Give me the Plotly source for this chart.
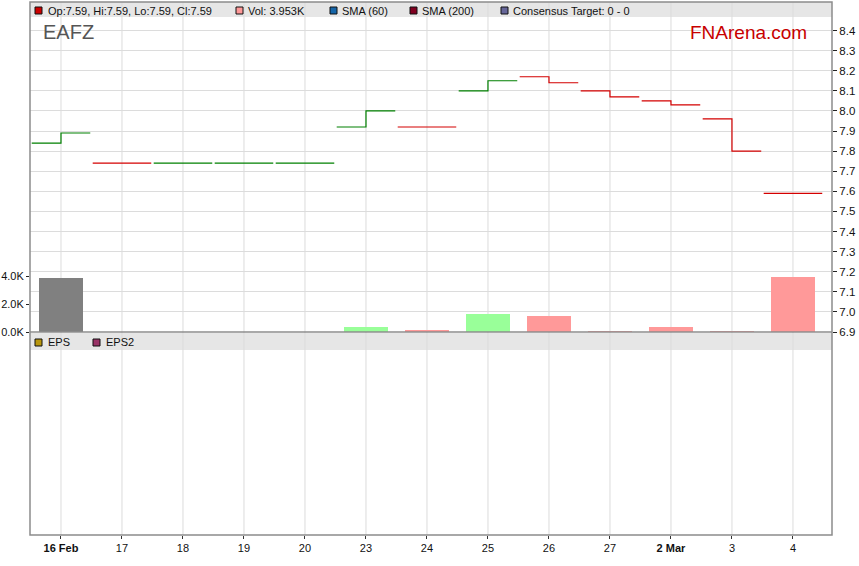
import plotly.graph_objects as go

# ---- data ----
dates = ["16 Feb", "17", "18", "19", "20", "23", "24", "25", "26", "27", "2 Mar", "3", "4"]
bold_dates = ["16 Feb", "2 Mar"]
opens = [7.84, 7.74, 7.74, 7.74, 7.74, 7.92, 7.92, 8.10, 8.17, 8.10, 8.05, 7.96, 7.59]
closes = [7.89, 7.74, 7.74, 7.74, 7.74, 8.00, 7.92, 8.15, 8.14, 8.07, 8.03, 7.80, 7.59]
volumes = [3850, 0, 0, 0, 0, 380, 140, 1290, 1160, 70, 380, 60, 3953]
price_ticks = [6.9, 7.0, 7.1, 7.2, 7.3, 7.4, 7.5, 7.6, 7.7, 7.8, 7.9, 8.0, 8.1, 8.2, 8.3, 8.4]
vol_ticks = [0, 2000, 4000]
vol_tick_text = ["0.0K", "2.0K", "4.0K"]

GREEN = "#008000"
RED = "#d40000"
FONT = "Liberation Sans, Arial, sans-serif"

W, H = 859, 566
ml, mr, mt, mb = 30, 27, 2, 31
ph = H - mt - mb


def py(pix):
    # pixel y -> paper y
    return (H - mb - pix) / ph


def px(pix):
    return (pix - ml) / (W - ml - mr)


n = len(dates)
idx = list(range(n))

# step segments
gx, gy, rx, ry = [], [], [], []
up = []
for i in idx:
    prev = closes[i - 1] if i > 0 else opens[i]
    is_up = closes[i] >= prev
    up.append(is_up)
    xs = [i - 0.48, i, i, i + 0.48, None]
    ys = [opens[i], opens[i], closes[i], closes[i], None]
    if is_up:
        gx += xs; gy += ys
    else:
        rx += xs; ry += ys

bar_colors = []
for i in idx:
    if i == 0:
        bar_colors.append("#808080")
    else:
        bar_colors.append("#99ff99" if up[i] else "#ff9999")

fig = go.Figure()
fig.add_trace(go.Bar(x=idx, y=volumes, width=0.73, marker=dict(color=bar_colors, line=dict(width=0)),
                     yaxis="y2", hoverinfo="skip", showlegend=False))
fig.add_trace(go.Scatter(x=gx, y=gy, mode="lines", line=dict(color=GREEN, width=1.2),
                         yaxis="y", showlegend=False, hoverinfo="skip"))
fig.add_trace(go.Scatter(x=rx, y=ry, mode="lines", line=dict(color=RED, width=1.2),
                         yaxis="y", showlegend=False, hoverinfo="skip"))
fig.add_trace(go.Scatter(x=[None], y=[None], yaxis="y3", showlegend=False))

price_dom = [py(332), py(17)]
price_range = [6.9, 6.9 + 315 / 201.0]

shapes = []
GRID = "#dcdcdc"
BAND = "#e6e6e6"
# bands
shapes.append(dict(type="rect", xref="paper", yref="paper", x0=0, x1=1, y0=py(17), y1=1,
                   fillcolor=BAND, line=dict(width=0), layer="below"))
shapes.append(dict(type="rect", xref="paper", yref="paper", x0=0, x1=1, y0=py(350), y1=py(333),
                   fillcolor=BAND, line=dict(width=0), layer="below"))
# vertical grid
for i in idx:
    shapes.append(dict(type="line", xref="x", yref="paper", x0=i, x1=i, y0=0, y1=1,
                       line=dict(color=GRID, width=1), layer="below"))
# borders
shapes.append(dict(type="rect", xref="paper", yref="paper", x0=0, x1=1, y0=0, y1=1,
                   line=dict(color="#8c8c8c", width=1.5), fillcolor="rgba(0,0,0,0)"))
shapes.append(dict(type="line", xref="paper", yref="paper", x0=0, x1=1, y0=py(332), y1=py(332),
                   line=dict(color="#8c8c8c", width=1.5)))

# legend squares
legend_items = [
    (35, 7, "#cc0000", "Op:7.59, Hi:7.59, Lo:7.59, Cl:7.59", 46),
    (236, 7, "#ff9999", "Vol: 3.953K", 246),
    (330, 7, "#1565a8", "SMA (60)", 340),
    (410, 7, "#800020", "SMA (200)", 420),
    (501, 7, "#666699", "Consensus Target: 0 - 0", 511),
    (35, 339, "#b8960c", "EPS", 46),
    (93, 339, "#993366", "EPS2", 104),
]
annotations = []
for sx, sy, col, txt, tx in legend_items:
    shapes.append(dict(type="rect", xref="paper", yref="paper", x0=px(sx), x1=px(sx + 7),
                       y0=py(sy + 7), y1=py(sy), fillcolor=col, line=dict(color="#111", width=1)))
    annotations.append(dict(xref="paper", yref="paper", x=px(tx), y=py(sy + 3.5), text=txt,
                            showarrow=False, xanchor="left", yanchor="middle",
                            font=dict(family=FONT, size=11, color="#111")))

annotations.append(dict(xref="paper", yref="paper", x=px(41), y=py(32), text="EAFZ", showarrow=False,
                        xanchor="left", yanchor="middle", font=dict(family=FONT, size=20, color="#555")))
annotations.append(dict(xref="paper", yref="paper", x=px(809), y=py(33), text="FNArena.com", showarrow=False,
                        xanchor="right", yanchor="middle", font=dict(family=FONT, size=19, color="#c80000")))

ticktext = [f"<b>{d}</b>" if d in bold_dates else d for d in dates]

fig.update_layout(
    width=W, height=H,
    margin=dict(l=ml, r=mr, t=mt, b=mb, pad=0, autoexpand=False),
    paper_bgcolor="white", plot_bgcolor="rgba(0,0,0,0)",
    showlegend=False, bargap=0,
    font=dict(family=FONT, size=11, color="#111"),
    xaxis=dict(range=[-0.508, 12.64], tickvals=idx, ticktext=ticktext, anchor="y3",
               showgrid=False, zeroline=False, ticks="outside", ticklen=3, tickcolor="#333",
               tickfont=dict(family=FONT, size=11, color="#111"), showline=False, automargin=False),
    yaxis=dict(domain=price_dom, range=price_range, side="right", anchor="x",
               tickvals=price_ticks, ticktext=[f"{v:.1f}" for v in price_ticks],
               showgrid=True, gridcolor=GRID, gridwidth=1, zeroline=False,
               ticks="outside", ticklen=4, tickcolor="#222", showline=False, automargin=False,
               tickfont=dict(family=FONT, size=11.5, color="#111")),
    yaxis2=dict(overlaying="y", side="left", anchor="x", range=[0, 22500],
                tickvals=vol_ticks, ticktext=vol_tick_text, showgrid=False, zeroline=False,
                ticks="outside", ticklen=3, tickcolor="#222", showline=False, automargin=False,
                tickfont=dict(family=FONT, size=11, color="#111")),
    yaxis3=dict(domain=[0, py(350)], anchor="x", showgrid=False, zeroline=False, automargin=False,
                showticklabels=False, ticks="", range=[0, 1]),
    shapes=shapes,
    annotations=annotations,
)

fig.write_html("out.html", config={"displayModeBar": False},
               post_script="document.body.style.margin='0';document.body.style.overflow='hidden';")
